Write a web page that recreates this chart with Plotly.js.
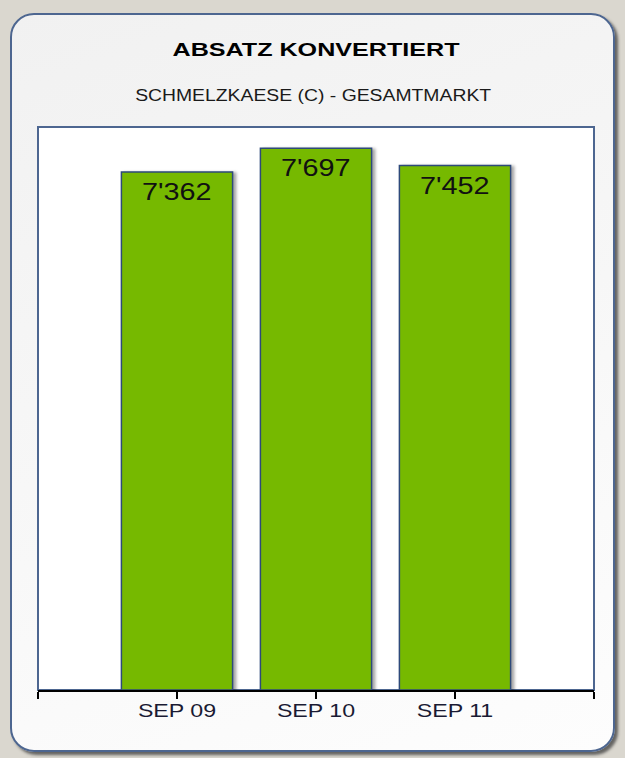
<!DOCTYPE html>
<html>
<head>
<meta charset="utf-8">
<script src="https://cdn.plot.ly/plotly-3.0.1.min.js"></script>
<style>
  html, body { margin: 0; padding: 0; width: 625px; height: 758px; overflow: hidden; background: #dad7cf; }
  #card {
    position: absolute; left: 10px; top: 13px; width: 601px; height: 735px;
    border: 2px solid #4d6690; border-radius: 24px;
    background: linear-gradient(160deg, #f1f1f1 0%, #f7f7f7 50%, #fdfdfd 100%);
    box-shadow: 3px 3px 3px rgba(60,60,60,0.75);
  }
  #chart { position: absolute; left: 0; top: 0; width: 625px; height: 758px; }
  .js-plotly-plot .plotly .bars .point path { filter: drop-shadow(3px 1px 1.5px rgba(0,0,0,0.35)); }
</style>
</head>
<body>
<div id="card"></div>
<div id="chart"></div>
<script>
const categories = ['SEP 09', 'SEP 10', 'SEP 11'];
const values = [7362, 7697, 7452];
const titleText = 'ABSATZ KONVERTIERT';
const subtitleText = 'SCHMELZKAESE (C) - GESAMTMARKT';

const FONT = 'Liberation Sans, Arial, sans-serif';
const xPos = categories.map((c, i) => i + 1);
const fmt = v => String(v).replace(/\B(?=(\d{3})+(?!\d))/g, "'");

const trace = {
  type: 'bar',
  x: xPos,
  y: values,
  width: 0.8,
  marker: { color: '#76b900', line: { color: '#2e4a7a', width: 1.5 } },
  hoverinfo: 'none'
};

const annotations = values.map((v, i) => ({
  x: xPos[i], y: v, xref: 'x', yref: 'y',
  text: fmt(v), showarrow: false, yanchor: 'middle', yshift: -20,
  font: { family: FONT, size: 23, color: '#111111' }
}));
annotations.push({
  xref: 'paper', yref: 'paper', x: 0.5, y: 1, yanchor: 'middle', yshift: 32, xshift: -3,
  text: subtitleText, showarrow: false,
  font: { family: FONT, size: 16, color: '#1a1a1a' }
});

const layout = {
  width: 625, height: 758,
  margin: { l: 38, r: 31, t: 127, b: 68 },
  paper_bgcolor: 'rgba(0,0,0,0)',
  plot_bgcolor: '#ffffff',
  showlegend: false,
  title: {
    text: titleText,
    x: 0.5, xref: 'paper', xanchor: 'center',
    y: 1 - 50 / 758, yanchor: 'middle',
    font: { family: FONT, size: 18, weight: 'bold', color: '#000000' }
  },
  xaxis: {
    range: [0, 4], tickvals: [0, 1, 2, 3, 4], ticktext: [''].concat(categories, ['']),
    showgrid: false, zeroline: false,
    showline: true, linecolor: '#000000', linewidth: 1.5,
    ticks: 'outside', ticklen: 7, tickcolor: '#000000', tickwidth: 1.2,
    tickfont: { family: FONT, size: 19, color: '#1a1a33' },
    fixedrange: true
  },
  yaxis: {
    range: [0, 8000], showgrid: false, zeroline: false, showticklabels: false,
    showline: false, fixedrange: true
  },
  shapes: [{
    type: 'rect', xref: 'paper', yref: 'paper', x0: 0, x1: 1, y0: 0, y1: 1,
    line: { color: '#4d6690', width: 2 }, layer: 'below'
  }],
  annotations: annotations
};

function stretch(el, factor, absolute) {
  if (!el || !el.getComputedTextLength) return;
  const w = absolute || el.getComputedTextLength() * factor;
  el.setAttribute('textLength', w.toFixed(1));
  el.setAttribute('lengthAdjust', 'spacingAndGlyphs');
}

Plotly.newPlot('chart', [trace], layout, { displayModeBar: false, staticPlot: true }).then(gd => {
  stretch(gd.querySelector('.gtitle'), 1, 287);
  const ann = gd.querySelectorAll('.annotation-text');
  ann.forEach((el, i) => {
    if (i < values.length) stretch(el, 1.25);
    else stretch(el, 1, 356);
  });
  gd.querySelectorAll('.xtick text').forEach(el => {
    stretch(el, 1.22);
    const y = parseFloat(el.getAttribute('y') || '0');
    el.setAttribute('y', (y - 4).toString());
  });
});
</script>
</body>
</html>
